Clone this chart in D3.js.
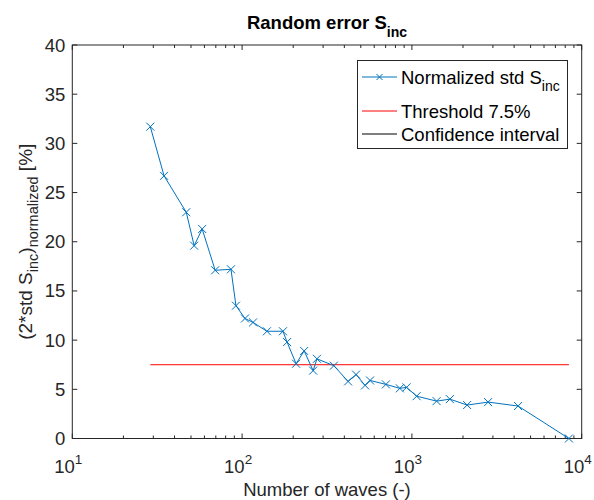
<!DOCTYPE html>
<html>
<head>
<meta charset="utf-8">
<script src="https://cdn.jsdelivr.net/npm/d3@7"></script>
<style>
  body { margin: 0; background: #fff; }
  svg { font-family: "Liberation Sans", Arial, sans-serif; }
</style>
</head>
<body>
<svg width="594" height="500"></svg>
<script>
// number of waves and normalized random error [%]
const waves = [28.8, 34.7, 46.9, 52.2, 58.2, 69.4, 86, 92, 104, 116, 140, 174, 184, 208, 232, 262, 276,
    347, 421, 469, 530, 567, 703, 849, 930, 1066, 1398, 1674, 2115, 2810, 4220, 8410];
const errors = [31.7, 26.7, 23.0, 19.6, 21.3, 17.1, 17.2, 13.5, 12.2, 11.8, 10.9, 10.9, 9.8, 7.6, 8.9, 6.9, 8.1,
    7.4, 5.8, 6.5, 5.4, 5.9, 5.5, 5.1, 5.2, 4.3, 3.8, 4.0, 3.4, 3.7, 3.3, 0];
const threshold = 7.5;
const yTicks = [0, 5, 10, 15, 20, 25, 30, 35, 40];
const xTicks = [10, 100, 1000, 10000];

const svg = d3.select('svg'),
    mLeft = 72.3, mTop = 45, mRight = 581.7, mBottom = 438.5,
    axisColor = '#262626',
    blue = '#0072BD';

const x = d3.scaleLog().domain([10, 10000]).range([mLeft, mRight]);
const y = d3.scaleLinear().domain([0, 40]).range([mBottom, mTop]);

// box
svg.append('rect')
    .attr('x', mLeft).attr('y', mTop)
    .attr('width', mRight - mLeft).attr('height', mBottom - mTop)
    .attr('fill', 'none').attr('stroke', axisColor).attr('stroke-width', 1);

// x ticks (major + minor), bottom and top, inside
const minor = [];
for (let e = 1; e < 4; e++) for (let k = 2; k <= 9; k++) minor.push(k * Math.pow(10, e));
const g = svg.append('g').attr('stroke', axisColor).attr('stroke-width', 1);
minor.forEach(v => {
    g.append('line').attr('x1', x(v)).attr('x2', x(v)).attr('y1', mBottom).attr('y2', mBottom - 3);
    g.append('line').attr('x1', x(v)).attr('x2', x(v)).attr('y1', mTop).attr('y2', mTop + 3);
});
xTicks.forEach(v => {
    g.append('line').attr('x1', x(v)).attr('x2', x(v)).attr('y1', mBottom).attr('y2', mBottom - 5);
    g.append('line').attr('x1', x(v)).attr('x2', x(v)).attr('y1', mTop).attr('y2', mTop + 5);
});
yTicks.forEach(v => {
    g.append('line').attr('x1', mLeft).attr('x2', mLeft + 5).attr('y1', y(v)).attr('y2', y(v));
    g.append('line').attr('x1', mRight).attr('x2', mRight - 5).attr('y1', y(v)).attr('y2', y(v));
});

// tick labels
svg.append('g').selectAll('text')
    .data(yTicks).enter().append('text')
    .attr('x', mLeft - 7).attr('y', d => y(d) + 6.5)
    .attr('text-anchor', 'end')
    .attr('font-size', 18.5).attr('fill', axisColor)
    .text(d => d);

const xl = svg.append('g').selectAll('text')
    .data(xTicks).enter().append('text')
    .attr('x', d => x(d) - 4).attr('y', mBottom + 34)
    .attr('text-anchor', 'middle')
    .attr('font-size', 18.5).attr('fill', axisColor);
xl.append('tspan').text('10');
xl.append('tspan').attr('dy', -9).attr('font-size', 13.5).text(d => Math.round(Math.log10(d)));

// axis labels
svg.append('text')
    .attr('x', (mLeft + mRight) / 2).attr('y', 496)
    .attr('text-anchor', 'middle')
    .attr('font-size', 18.5).attr('fill', axisColor)
    .text('Number of waves (-)');

const yl = svg.append('text')
    .attr('transform', 'translate(32,' + ((mTop + mBottom) / 2) + ') rotate(-90)')
    .attr('text-anchor', 'middle')
    .attr('font-size', 19).attr('fill', axisColor);
yl.append('tspan').text('(2*std S');
yl.append('tspan').attr('dy', 6).attr('font-size', 14.5).text('inc');
yl.append('tspan').attr('dy', -6).text(')');
yl.append('tspan').attr('dy', 6).attr('font-size', 14.5).text('normalized');
yl.append('tspan').attr('dy', -6).text(' [%]');

// title
const title = svg.append('text')
    .attr('x', (mLeft + mRight) / 2).attr('y', 28.5)
    .attr('text-anchor', 'middle')
    .attr('font-size', 18.5).attr('font-weight', 'bold').attr('fill', '#000');
title.append('tspan').text('Random error S');
title.append('tspan').attr('dy', 8).attr('font-size', 14).text('inc');

// threshold line
svg.append('line')
    .attr('x1', x(d3.min(waves))).attr('x2', x(d3.max(waves)))
    .attr('y1', y(threshold)).attr('y2', y(threshold))
    .attr('stroke', '#FF0000').attr('stroke-width', 1);

// data line
const pts = waves.map((w, i) => [w, errors[i]]);
svg.append('path')
    .datum(pts)
    .attr('fill', 'none').attr('stroke', blue).attr('stroke-width', 1)
    .attr('d', d3.line().x(d => x(d[0])).y(d => y(d[1])));

const cross = (sel, s) => sel.append('path')
    .attr('d', 'M' + (-s) + ',' + (-s) + 'L' + s + ',' + s + 'M' + (-s) + ',' + s + 'L' + s + ',' + (-s))
    .attr('stroke', blue).attr('stroke-width', 1).attr('fill', 'none');

svg.append('g').selectAll('g')
    .data(pts).enter().append('g')
    .attr('transform', d => 'translate(' + x(d[0]) + ',' + y(d[1]) + ')')
    .call(sel => cross(sel, 4));

// legend
const lg = svg.append('g');
lg.append('rect')
    .attr('x', 357.5).attr('y', 60.5).attr('width', 210).attr('height', 88)
    .attr('fill', '#fff').attr('stroke', axisColor).attr('stroke-width', 1);

const items = [
    { label: 'Normalized std S', sub: 'inc', color: blue, marker: true, yy: 77 },
    { label: 'Threshold 7.5%', color: '#FF0000', yy: 111 },
    { label: 'Confidence interval', color: '#000', yy: 134 }
];
items.forEach(it => {
    lg.append('line')
        .attr('x1', 362).attr('x2', 397).attr('y1', it.yy).attr('y2', it.yy)
        .attr('stroke', it.color).attr('stroke-width', 1);
    if (it.marker) {
        lg.append('g').attr('transform', 'translate(379.5,' + it.yy + ')').call(sel => cross(sel, 3));
    }
    const t = lg.append('text')
        .attr('x', 401).attr('y', it.yy + 6.5)
        .attr('font-size', 18.5).attr('fill', '#000');
    t.append('tspan').text(it.label);
    if (it.sub) t.append('tspan').attr('dy', 7.5).attr('font-size', 14).text(it.sub);
});
</script>
</body>
</html>
